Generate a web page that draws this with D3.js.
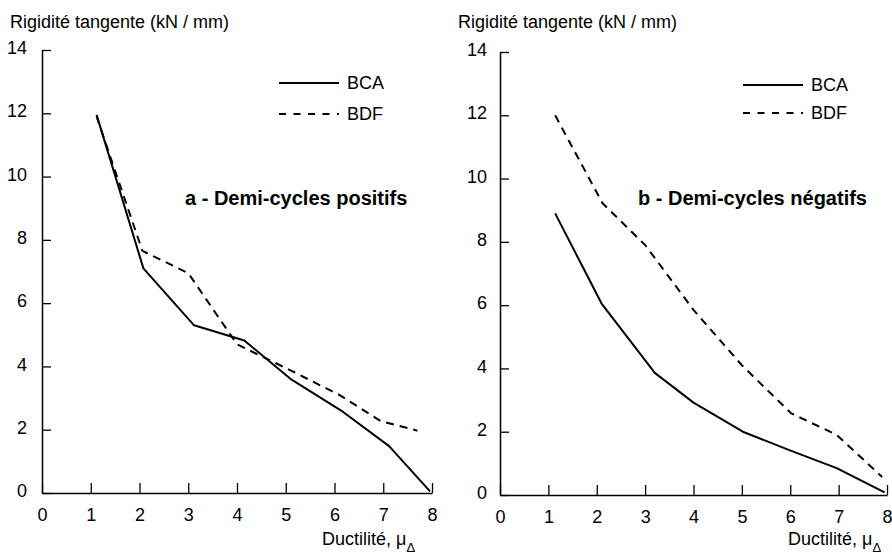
<!DOCTYPE html>
<html>
<head>
<meta charset="utf-8">
<script src="https://cdn.jsdelivr.net/npm/d3@7"></script>
<style>
  body { margin: 0; background: #fff; }
  svg { display: block; font-family: "Liberation Sans", Arial, Helvetica, sans-serif; }
</style>
</head>
<body>
<div id="chart"></div>
<script>
// valeurs
const xTicks = [0, 1, 2, 3, 4, 5, 6, 7, 8];
const yTicks = [0, 2, 4, 6, 8, 10, 12, 14];
const seriesNames = ["BCA", "BDF"];

// a - demi-cycles positifs
const posBCA = [[1.12, 11.95], [2.08, 7.1], [3.12, 5.3], [4.15, 4.82], [5.12, 3.58], [6.17, 2.57], [7.12, 1.48], [7.96, 0.05]];
const posBDF = [[1.12, 11.9], [2.06, 7.65], [3.0, 6.95], [4.0, 4.7], [5.0, 3.95], [6.1, 3.1], [6.95, 2.27], [7.7, 1.97]];

// b - demi-cycles négatifs
const negBCA = [[1.14, 8.9], [2.1, 6.05], [3.2, 3.86], [4.0, 2.92], [5.02, 2.0], [5.98, 1.42], [6.96, 0.85], [7.95, 0.08]];
const negBDF = [[1.14, 12.0], [2.12, 9.22], [3.0, 7.9], [4.0, 5.85], [5.0, 4.1], [6.02, 2.58], [6.96, 1.9], [7.9, 0.57]];

const width = 892, height = 558;
const fontSize = 18;

const svg = d3.select('#chart')
    .append('svg')
    .attr('width', width)
    .attr('height', height);

const panels = [
    {
        x0: 42, x1: 432, y0: 493, y1: 50,
        labelPad: 15,
        title: 'a - Demi-cycles positifs', titleX: 185,
        yTitleX: 10, xTitleX: 322,
        legendX: 279, legendY: [83, 114],
        data: [posBCA, posBDF]
    },
    {
        x0: 500, x1: 887, y0: 495, y1: 52,
        labelPad: 13,
        title: 'b - Demi-cycles négatifs', titleX: 638,
        yTitleX: 458, xTitleX: 788,
        legendX: 743, legendY: [85, 113],
        data: [negBCA, negBDF]
    }
];

const dashes = [null, '8,6'];

panels.forEach(p => drawPanel(p));

function drawPanel(p) {
    const x = d3.scaleLinear().domain([0, 8]).range([p.x0, p.x1]);
    const y = d3.scaleLinear().domain([0, 14]).range([p.y0, p.y1]);

    // axe X (graduations vers l'intérieur)
    const gx = svg.append('g')
        .attr('transform', `translate(0,${p.y0})`)
        .call(d3.axisBottom(x).tickValues(xTicks).tickSizeInner(-10).tickSizeOuter(0).tickPadding(15));

    // axe Y
    const gy = svg.append('g')
        .attr('transform', `translate(${p.x0},0)`)
        .call(d3.axisLeft(y).tickValues(yTicks).tickSizeInner(-9).tickSizeOuter(0).tickPadding(p.labelPad));

    [gx, gy].forEach(g => {
        g.select('.domain').attr('stroke', '#000').attr('stroke-width', 1.5);
        g.selectAll('.tick line').attr('stroke', '#000').attr('stroke-width', 1.3);
        g.selectAll('.tick text')
            .attr('font-size', fontSize)
            .attr('font-family', '"Liberation Sans", Arial, sans-serif')
            .attr('fill', '#000');
    });
    gy.selectAll('.tick text').attr('dy', '0.2em');

    // courbes
    const line = d3.line()
        .x(d => x(d[0]))
        .y(d => y(d[1]));

    p.data.forEach((serie, i) => {
        svg.append('path')
            .datum(serie)
            .attr('d', line)
            .attr('fill', 'none')
            .attr('stroke', '#000')
            .attr('stroke-width', 2)
            .attr('stroke-linejoin', 'round')
            .attr('stroke-dasharray', dashes[i]);
    });

    // légende
    seriesNames.forEach((name, i) => {
        const ly = p.legendY[i];
        svg.append('line')
            .attr('x1', p.legendX)
            .attr('x2', p.legendX + 60)
            .attr('y1', ly)
            .attr('y2', ly)
            .attr('stroke', '#000')
            .attr('stroke-width', 2)
            .attr('stroke-dasharray', i === 1 ? '7,7.5' : null);
        svg.append('text')
            .attr('x', p.legendX + 68)
            .attr('y', ly)
            .attr('dy', '0.35em')
            .attr('font-size', fontSize)
            .text(name);
    });

    // titre du graphique
    svg.append('text')
        .attr('x', p.titleX)
        .attr('y', 205)
        .attr('font-size', 20)
        .attr('font-weight', 'bold')
        .text(p.title);

    // titre axe Y
    svg.append('text')
        .attr('x', p.yTitleX)
        .attr('y', 28)
        .attr('font-size', fontSize)
        .text('Rigidité tangente (kN / mm)');

    // titre axe X
    const xt = svg.append('text')
        .attr('x', p.xTitleX)
        .attr('y', 545)
        .attr('font-size', fontSize);
    xt.append('tspan').text('Ductilité, ');
    xt.append('tspan').text('μ');
    xt.append('tspan').attr('dy', 7).attr('font-size', 13).text('Δ');
}
</script>
</body>
</html>
